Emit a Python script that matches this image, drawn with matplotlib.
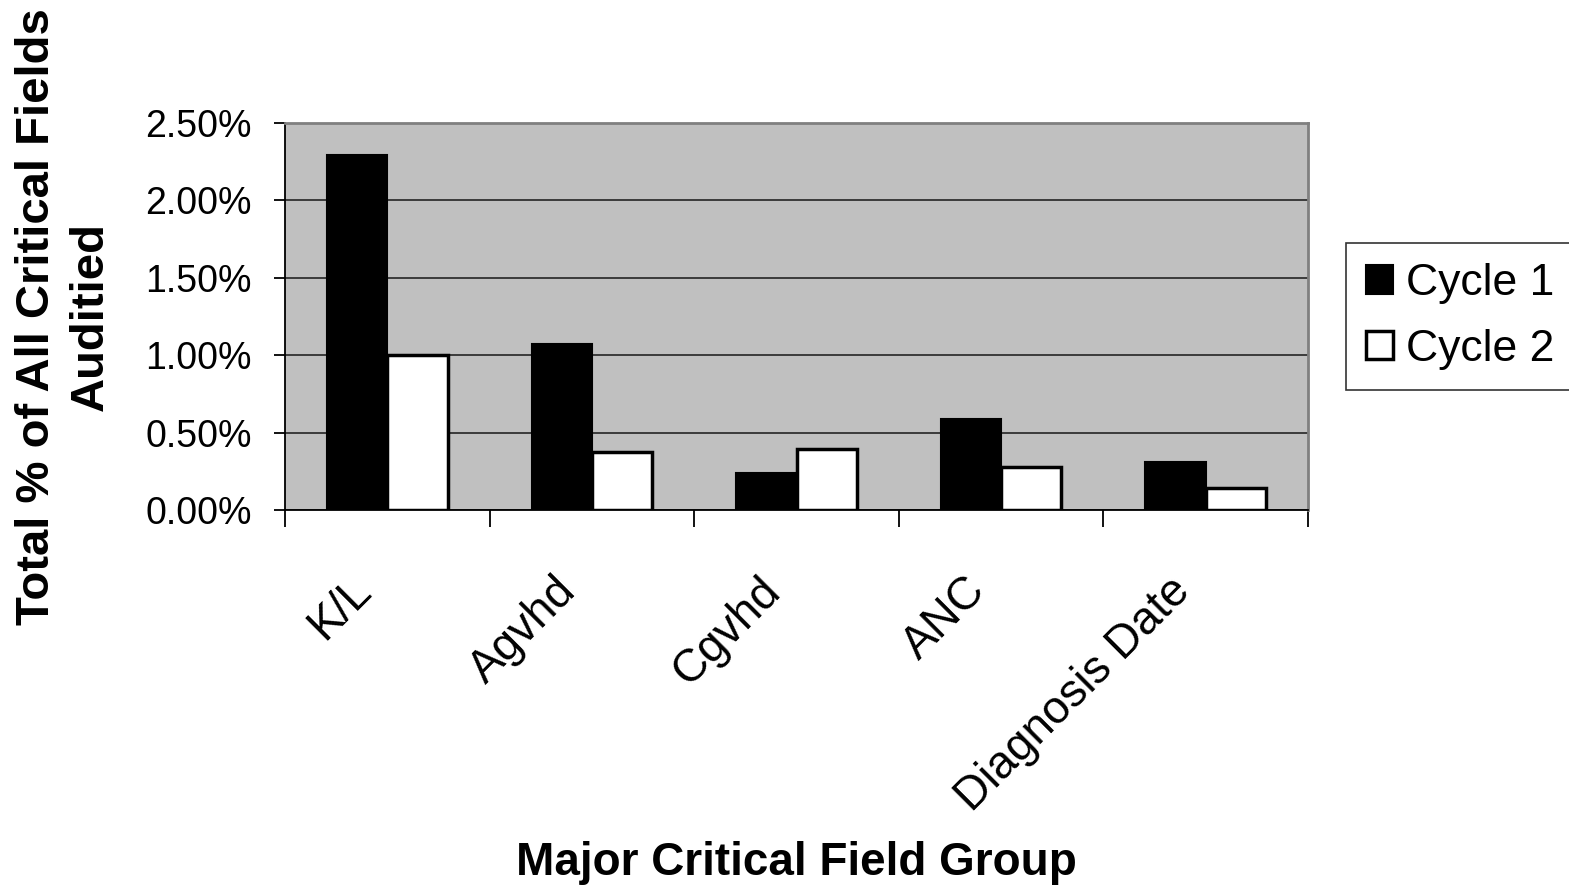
import matplotlib
matplotlib.use("Agg")
import matplotlib.pyplot as plt
import matplotlib.transforms as mtransforms
from matplotlib.ticker import FuncFormatter, FixedLocator
import numpy as np

plt.rcParams["font.family"] = ["Liberation Sans", "DejaVu Sans"]

# ── 데이터 ─────────────────────────────────────────
groups = ["K/L", "Agvhd", "Cgvhd", "ANC", "Diagnosis Date"]
cycle1 = [2.29, 1.075, 0.24, 0.585, 0.31]
cycle2 = [1.00, 0.375, 0.395, 0.28, 0.14]
yticks = [0.0, 0.5, 1.0, 1.5, 2.0, 2.5]

fig = plt.figure(figsize=(15.69, 8.86), dpi=100, facecolor="white")
ax = fig.add_axes([0.1816, 0.4244, 0.6521, 0.4368], facecolor="#c0c0c0")

x = np.arange(len(groups))
w = 0.295
ax.bar(x - w / 2, cycle1, w, color="black", edgecolor="black", linewidth=1.5,
       label="Cycle 1", zorder=3)
ax.bar(x + w / 2, cycle2, w, color="white", edgecolor="black", linewidth=2.5,
       label="Cycle 2", zorder=3)

ax.set_xlim(-0.5, len(groups) - 0.5)
ax.set_ylim(0, 2.5)
ax.set_yticks(yticks)
ax.yaxis.set_major_formatter(FuncFormatter(lambda v, _: f"{v:.2f}%"))
ax.grid(axis="y", color="#303030", linewidth=1.3, zorder=1)

ax.set_xticks(x)
ax.set_xticklabels(groups, rotation=45, ha="right", rotation_mode="anchor")
ax.xaxis.set_minor_locator(FixedLocator(np.arange(-0.5, len(groups), 1.0)))
ax.tick_params(axis="x", which="major", length=0, pad=48, labelsize=33)
ax.tick_params(axis="x", which="minor", length=12, width=1.3, color="black")
ax.tick_params(axis="y", length=8, width=1.3, labelsize=27, pad=16)

# 회전 라벨을 왼쪽 위로 살짝 이동
shift = mtransforms.ScaledTranslation(-0.38, 0.08, fig.dpi_scale_trans)
for lbl in ax.get_xticklabels():
    lbl.set_transform(lbl.get_transform() + shift)

for s in ("top", "right"):
    ax.spines[s].set_color("#808080")
    ax.spines[s].set_linewidth(2)
for s in ("left", "bottom"):
    ax.spines[s].set_color("black")
    ax.spines[s].set_linewidth(1.3)

ax.set_xlabel("Major Critical Field Group", fontsize=33, fontweight="bold")
ax.xaxis.set_label_coords(0.5, -0.855)
ax.set_ylabel("Total % of All Critical Fields\nAuditied", fontsize=34,
              fontweight="bold", linespacing=1.3)
ax.yaxis.set_label_coords(-0.168, 0.5)

leg = ax.legend(loc="center left", bbox_to_anchor=(0.858, 0.643),
                bbox_transform=fig.transFigure, fontsize=32, frameon=True,
                fancybox=False, edgecolor="black", handlelength=0.6,
                handleheight=0.6, handletextpad=0.3, borderpad=0.45,
                labelspacing=0.55, borderaxespad=0)
leg.get_frame().set_linewidth(1.2)

fig.savefig("out.png", dpi=100, facecolor="white")
